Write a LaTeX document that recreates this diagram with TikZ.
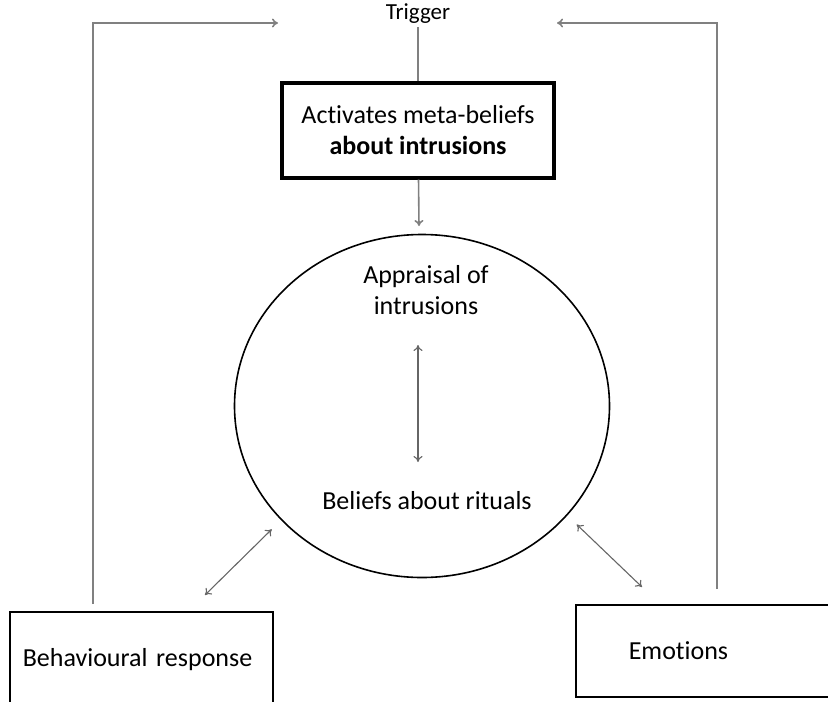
\documentclass[tikz,border=0pt]{standalone}
\usepackage{fontspec}
\setmainfont{Carlito}[Ligatures=NoCommon]
\usepackage{tikz}
\usetikzlibrary{arrows.meta, calc, shapes.geometric}

\begin{document}
\begin{tikzpicture} [x=1pt, y=-1pt,
	font=\fontsize{26}{31}\selectfont,
	link/.style={draw=gray, line width=1.6pt},
	tip/.style={link, -{To[length=6pt, width=9pt]}},
	both/.style={draw=gray!80!black, line width=1.1pt, {To[length=6pt, width=9pt]}-{To[length=6pt, width=9pt]}},
	outbox/.style={draw, line width=1.6pt, inner ysep=0pt}]
	%    page frame
	\useasboundingbox (0,0) rectangle (828,702);
	\clip (0,0) rectangle (828,702);
	
	\node (trigger)[font=\fontsize{23}{27}\selectfont] at (418,14) {Trigger};
	\node (meta)[draw, line width=4pt, minimum width=272pt, minimum height=95pt, align=center]
		at (418,130) {Activates meta-beliefs\\ \textbf{about intrusions}};
	\node (cycle)[draw, ellipse, line width=1.6pt, inner sep=0pt, minimum width=375pt, minimum height=343pt] at (422,406) {};
	\node (appraisal)[align=center] at (426,290) {Appraisal of\\intrusions};
	\node (rituals) at (427,501) {Beliefs about rituals};
	\node (behave)[outbox, anchor=west, minimum height=96pt, text width=237pt, inner xsep=13pt, align=left]
		at (9,660) {Behavioural response};
	\node (emotions)[outbox, anchor=west, minimum height=92pt, text width=160pt, inner xsep=53pt, align=left]
		at (575,651) {Emotions};
	
	\coordinate (top left) at (93,23);
	\coordinate (top right) at (717,23);
	\coordinate (circle top) at (419,226);
	\coordinate (in top) at (418,345);
	\coordinate (in bottom) at (418,462);
	\coordinate (left end) at (205,595);
	\coordinate (right end) at (642,587);
	
	\draw[link] (trigger) -- (meta);
	\draw[tip] (meta) -- (circle top);
	\draw[both] (in top) -- (in bottom);
	\draw[both, shorten <=13pt] (cycle.219) -- (left end);
	\draw[both, shorten <=13pt] (cycle.-37) -- (right end);
	
	% feedback loops
	\draw[tip, shorten <=7pt] (behave.north -| top left) -- (top left) -- (278,23);
	\draw[tip, shorten <=15pt] (emotions.north -| top right) -- (top right) -- (557,23);
	
\end{tikzpicture}
\end{document}
